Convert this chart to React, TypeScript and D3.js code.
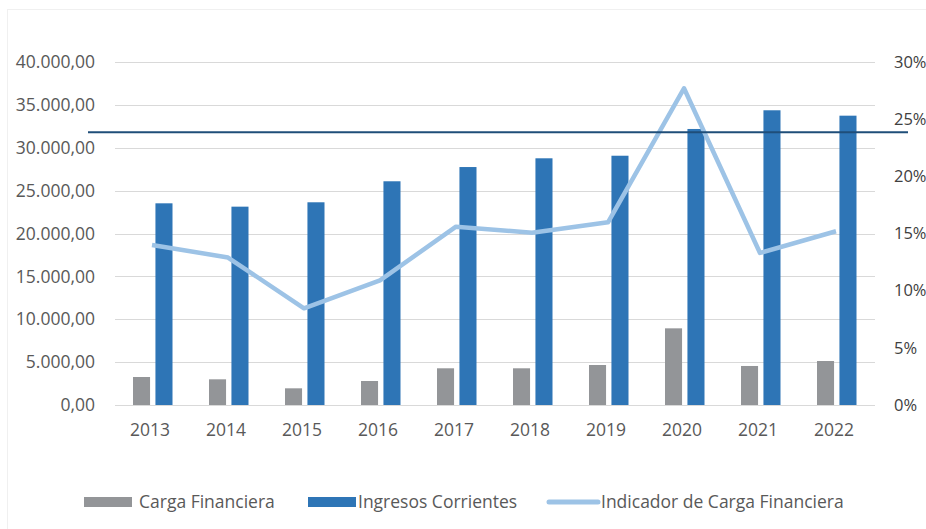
import React, { useEffect, useRef } from 'react';
import * as d3 from 'd3';

const years = ['2013', '2014', '2015', '2016', '2017', '2018', '2019', '2020', '2021', '2022'];
const cargaFinanciera = [3265, 2995, 1945, 2800, 4280, 4280, 4665, 8940, 4550, 5130];
const ingresosCorrientes = [23520, 23130, 23640, 26090, 27750, 28770, 29070, 32190, 34370, 33740];
const indicador = [0.14, 0.129, 0.0846, 0.109, 0.156, 0.1507, 0.1598, 0.277, 0.133, 0.152];
const leftTicks = [0, 5000, 10000, 15000, 20000, 25000, 30000, 35000, 40000];
const rightTicks = [0, 0.05, 0.1, 0.15, 0.2, 0.25, 0.3];
const referenceLevel = 31800;

const W = 926;
const H = 529;
const FONT = '"Open Sans", "Liberation Sans", sans-serif';
const FS = '17.5px';
const TEXT = '#595959';

const fmtLeft = (v: number) => {
  const s = d3.format(',.2f')(v);
  return s.replace(/,/g, '#').replace('.', ',').replace(/#/g, '.');
};

export default function App() {
  const ref = useRef<SVGSVGElement | null>(null);

  useEffect(() => {
    const svg = d3.select(ref.current);
    svg.selectAll('*').remove();

    const left = 115, right = 875, top = 62, bottom = 405;

    // chart frame (faint)
    svg.append('rect')
      .attr('x', 7.5).attr('y', 9.5)
      .attr('width', W).attr('height', H)
      .attr('fill', '#fff')
      .attr('stroke', '#f0f0f0');

    const x = d3.scaleBand<string>().domain(years).range([left, right]);
    const x1 = d3.scaleBand<string>()
      .domain(['carga', 'ingresos'])
      .range([18, 57.5])
      .paddingInner(0.24);
    const y = d3.scaleLinear().domain([0, 40000]).range([bottom, top]);
    const y2 = d3.scaleLinear().domain([0, 0.3]).range([bottom, top]);

    // gridlines
    svg.append('g')
      .selectAll('line')
      .data(leftTicks)
      .join('line')
      .attr('x1', left).attr('x2', right)
      .attr('y1', d => Math.round(y(d)) + 0.5)
      .attr('y2', d => Math.round(y(d)) + 0.5)
      .attr('stroke', '#d9d9d9')
      .attr('stroke-width', 1);

    // left tick labels
    svg.append('g')
      .selectAll('text')
      .data(leftTicks)
      .join('text')
      .attr('x', 95)
      .attr('y', d => y(d))
      .attr('dy', '0.35em')
      .attr('text-anchor', 'end')
      .attr('fill', TEXT)
      .style('font-family', FONT)
      .style('font-size', FS)
      .text(d => fmtLeft(d));

    // right tick labels (kept just inside the right edge)
    svg.append('g')
      .selectAll('text')
      .data(rightTicks)
      .join('text')
      .attr('x', 894)
      .attr('y', d => y2(d))
      .attr('dy', '0.35em')
      .attr('fill', '#404040')
      .style('font-family', FONT)
      .style('font-size', '16.5px')
      .text(d => `${Math.round(d * 100)}%`);

    // x labels
    svg.append('g')
      .selectAll('text')
      .data(years)
      .join('text')
      .attr('x', d => (x(d) as number) + x.bandwidth() / 2 - 3)
      .attr('y', 430)
      .attr('dy', '0.35em')
      .attr('text-anchor', 'middle')
      .attr('fill', TEXT)
      .style('font-family', FONT)
      .style('font-size', FS)
      .text(d => d);

    // bars
    svg.append('g')
      .selectAll('rect')
      .data(years)
      .join('rect')
      .attr('x', (d) => (x(d) as number) + (x1('carga') as number))
      .attr('y', (d, i) => y(cargaFinanciera[i]))
      .attr('width', x1.bandwidth())
      .attr('height', (d, i) => bottom - y(cargaFinanciera[i]))
      .attr('fill', '#939598');

    svg.append('g')
      .selectAll('rect')
      .data(years)
      .join('rect')
      .attr('x', (d) => (x(d) as number) + (x1('ingresos') as number))
      .attr('y', (d, i) => y(ingresosCorrientes[i]))
      .attr('width', x1.bandwidth())
      .attr('height', (d, i) => bottom - y(ingresosCorrientes[i]))
      .attr('fill', '#2e75b6');

    // indicator line
    const line = d3.line<number>()
      .x((d, i) => (x(years[i]) as number) + x.bandwidth() / 2 - 1)
      .y(d => y2(d));
    svg.append('path')
      .datum(indicador)
      .attr('d', line)
      .attr('fill', 'none')
      .attr('stroke', '#9dc3e6')
      .attr('stroke-width', 4.5)
      .attr('stroke-linejoin', 'round');

    // reference line
    svg.append('line')
      .attr('x1', 88).attr('x2', 908)
      .attr('y1', y(referenceLevel)).attr('y2', y(referenceLevel))
      .attr('stroke', '#1f4e79')
      .attr('stroke-width', 2);

    // legend
    const ly = 502;
    const legend = svg.append('g');
    legend.append('rect').attr('x', 84).attr('y', ly - 5).attr('width', 48).attr('height', 10).attr('fill', '#939598');
    legend.append('text').attr('x', 139).attr('y', ly).attr('dy', '0.35em').attr('fill', TEXT)
      .style('font-family', FONT).style('font-size', FS).text('Carga Financiera');
    legend.append('rect').attr('x', 308).attr('y', ly - 5).attr('width', 48).attr('height', 10).attr('fill', '#2e75b6');
    legend.append('text').attr('x', 358).attr('y', ly).attr('dy', '0.35em').attr('fill', TEXT)
      .style('font-family', FONT).style('font-size', FS).text('Ingresos Corrientes');
    legend.append('line').attr('x1', 549).attr('x2', 598).attr('y1', ly).attr('y2', ly)
      .attr('stroke', '#9dc3e6').attr('stroke-width', 5).attr('stroke-linecap', 'round');
    legend.append('text').attr('x', 601).attr('y', ly).attr('dy', '0.35em').attr('fill', TEXT)
      .style('font-family', FONT).style('font-size', FS).text('Indicador de Carga Financiera');
  }, []);

  return (
    <svg
      ref={ref}
      width={W}
      height={H}
      style={{ position: 'absolute', left: 0, top: 0, background: '#fff' }}
    />
  );
}
